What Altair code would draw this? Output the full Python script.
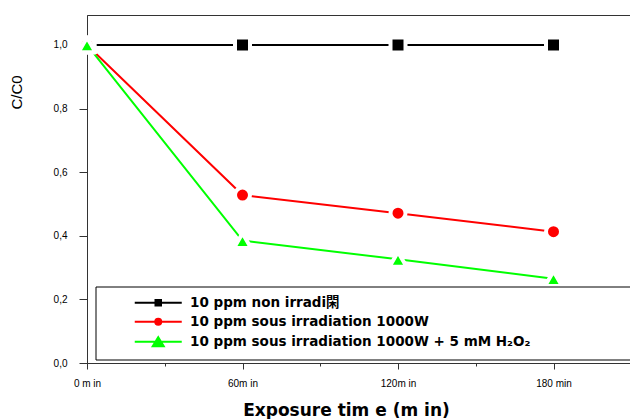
import altair as alt
import pandas as pd

# ---- data ----
minutes = [0, 60, 120, 180]
series = [
    "10 ppm non irradi閑",
    "10 ppm sous irradiation 1000W",
    "10 ppm sous irradiation 1000W + 5 mM H₂O₂",
]
vals_black = [1.0, 1.0, 1.0, 1.0]
vals_red = [1.0, 0.528, 0.471, 0.413]
vals_green = [1.0, 0.385, 0.326, 0.265]
colors = ["#000000", "#ff0000", "#00ff00"]
shapes = ["square", "circle", "triangle-up"]
sizes = [225, 225, 290]
x_tick_values = [0, 30, 60, 90, 120, 150, 180, 210]
x_tick_text = {0: "0 m in", 60: "60m in", 120: "120m in", 180: "180 min"}
y_tick_values = [0.0, 0.1, 0.2, 0.3, 0.4, 0.5, 0.6, 0.7, 0.8, 0.9, 1.0]

# legend symbols: a line through the marker
legend_paths = [
    "M-4.7,0H4.7M-0.55,-0.55H0.55V0.55H-0.55Z",
    "M-4.7,0H4.7M-0.6,0A0.6,0.6 0 1,0 0.6,0A0.6,0.6 0 1,0 -0.6,0Z",
    "M-4.7,0H4.7M0,-0.9L1.1,0.9H-1.1Z",
]

rows = []
for name, vals in zip(series, [vals_black, vals_red, vals_green]):
    for m, v in zip(minutes, vals):
        rows.append({"series": name, "minute": m, "value": v})
df = pd.DataFrame(rows)

W, H = 543, 348
x_scale = alt.Scale(domain=[0, W * 60 / 155.5], nice=False, zero=False)
y_scale = alt.Scale(domain=[0, 1.0943], nice=False)

label_expr_x = " : ".join(
    [f"datum.value == {k} ? '{v}'" for k, v in x_tick_text.items()]
) + " : ''"

x_axis = alt.Axis(
    values=x_tick_values,
    labelExpr=label_expr_x,
    title="Exposure tim e (m in)",
    titleFont="DejaVu Sans",
    titleFontSize=17,
    titleFontWeight="bold",
    titleX=259,
    titleY=47,
    titleAlign="center",
    titleBaseline="middle",
    labelFont="Liberation Sans",
    labelFontSize=10,
    labelColor="#000000",
    labelPadding=9,
    tickSize={"condition": {"test": "datum.value % 60 === 0", "value": 6}, "value": 3},
    tickColor="#333333",
    domainColor="#333333",
    grid=False,
    labelFlush=False,
    labelOverlap=False,
)

y_axis = alt.Axis(
    values=y_tick_values,
    labelExpr="round(datum.value*10) % 2 == 0 ? replace(format(datum.value, '.1f'), '.', ',') : ''",
    title="C/C0",
    titleFont="Liberation Sans",
    titleFontSize=15,
    titleFontWeight="normal",
    titleAngle=270,
    titleX=-71,
    titleY=77,
    titleAlign="center",
    titleBaseline="middle",
    labelFont="Liberation Sans",
    labelFontSize=10,
    labelColor="#000000",
    labelPadding=12,
    tickSize={"condition": {"test": "round(datum.value*10) % 2 == 0", "value": 8}, "value": 5},
    tickColor="#333333",
    domainColor="#333333",
    grid=False,
    labelOverlap=False,
)

base = alt.Chart(df)

layers = []
for name, c in zip(series, colors):
    layers.append(
        base.transform_filter(alt.datum.series == name)
        .mark_line(color=c, strokeWidth=2)
        .encode(
            x=alt.X("minute:Q", scale=x_scale, axis=x_axis),
            y=alt.Y("value:Q", scale=y_scale, axis=y_axis),
        )
    )

for name, c, s, sz in zip(series, colors, shapes, sizes):
    layers.append(
        base.transform_filter(alt.datum.series == name)
        .mark_point(shape=s, filled=True, fill=c, stroke="white", strokeWidth=4,
                    strokeJoin="round", size=sz, opacity=1)
        .encode(x="minute:Q", y="value:Q")
    )

# legend frame
layers.append(
    alt.Chart(pd.DataFrame({"a": [0]}))
    .mark_rect(fill="white", stroke="#000000", strokeWidth=1)
    .encode(x=alt.value(9), x2=alt.value(600), y=alt.value(272), y2=alt.value(345))
)

# invisible layer that carries the legend
legend_cfg = alt.Legend(
    title=None,
    orient="none",
    legendX=64.5,
    legendY=281,
    labelFont="DejaVu Sans, 'Noto Sans CJK SC'",
    labelFontSize=13.5,
    labelFontWeight="bold",
    labelColor="#000000",
    labelOffset=25,
    symbolSize=100,
    symbolStrokeWidth=2,
    symbolOpacity=1,
    rowPadding=4,
    labelLimit=600,
    padding=0,
)
layers.append(
    base.mark_point(opacity=0, strokeWidth=2)
    .encode(
        x="minute:Q",
        y="value:Q",
        color=alt.Color("series:N", scale=alt.Scale(domain=series, range=colors),
                        sort=series, legend=legend_cfg),
        fill=alt.Fill("series:N", scale=alt.Scale(domain=series, range=colors),
                      sort=series, legend=legend_cfg),
        shape=alt.Shape("series:N", scale=alt.Scale(domain=series, range=legend_paths),
                        sort=series, legend=legend_cfg),
    )
)

chart = (
    alt.layer(*layers)
    .properties(
        width=W,
        height=H,
        autosize=alt.AutoSizeParams(type="none"),
        padding={"left": 87, "top": 15, "right": 0, "bottom": 56},
        background="white",
    )
    .configure_view(stroke="#333333", strokeWidth=1)
)

chart.save("out.html", embed_options={"renderer": "svg", "actions": False})
